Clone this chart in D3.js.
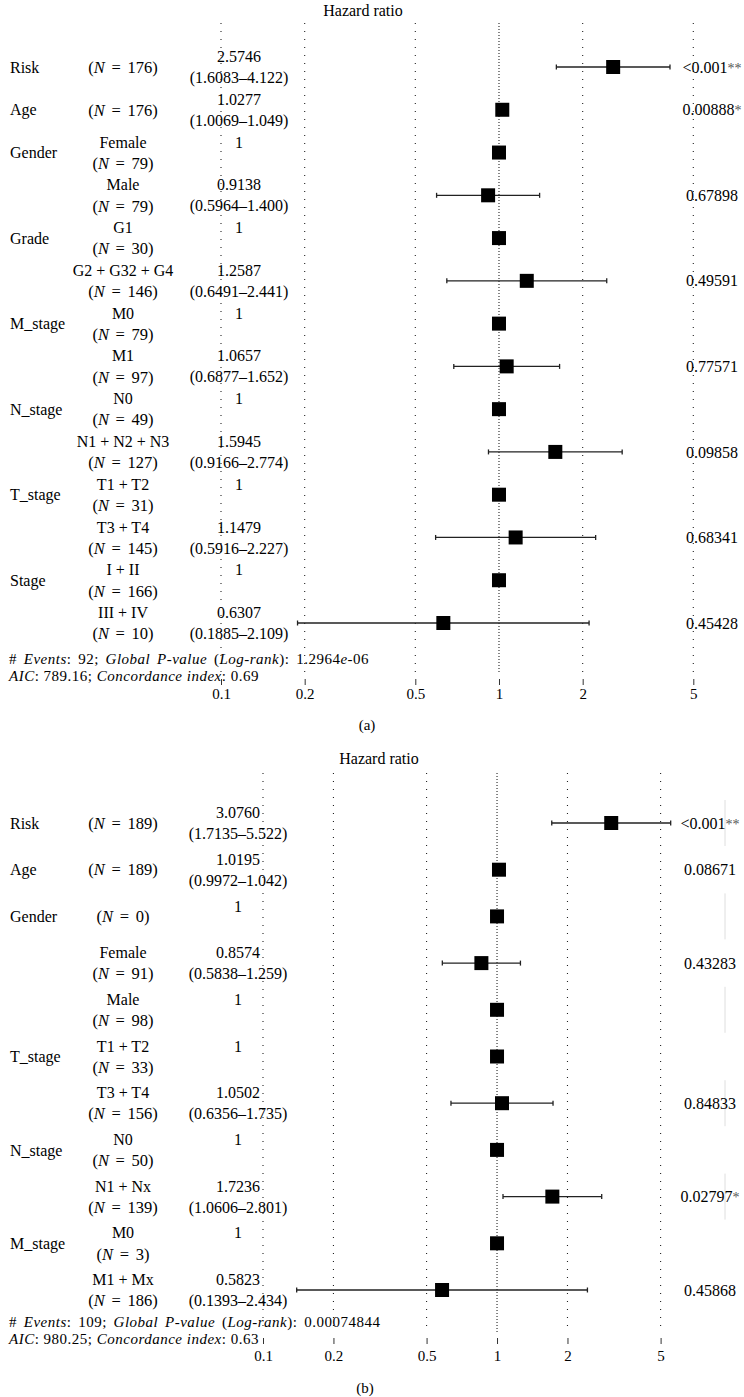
<!DOCTYPE html>
<html>
<head>
<meta charset="utf-8">
<script src="https://cdn.jsdelivr.net/npm/d3@7"></script>
<style>
body { margin: 0; background: #fff; }
svg { display: block; font-family: "Liberation Serif", "DejaVu Serif", serif; }
</style>
</head>
<body>
<svg width="744" height="1397"></svg>
<script>
// panel (a) data
const varA = ["Risk", "Age", "Gender", "", "Grade", "", "M_stage", "", "N_stage", "", "T_stage", "", "Stage", ""];
const levelA = ["", "", "Female", "Male", "G1", "G2 + G32 + G4", "M0", "M1", "N0", "N1 + N2 + N3", "T1 + T2", "T3 + T4", "I + II", "III + IV"];
const nA = [176, 176, 79, 79, 30, 146, 79, 97, 49, 127, 31, 145, 166, 10];
const hrA = [2.5746, 1.0277, 1, 0.9138, 1, 1.2587, 1, 1.0657, 1, 1.5945, 1, 1.1479, 1, 0.6307];
const loA = [1.6083, 1.0069, null, 0.5964, null, 0.6491, null, 0.6877, null, 0.9166, null, 0.5916, null, 0.1885];
const hiA = [4.122, 1.049, null, 1.400, null, 2.441, null, 1.652, null, 2.774, null, 2.227, null, 2.109];
const pA = ["<0.001**", "0.00888*", "", "0.67898", "", "0.49591", "", "0.77571", "", "0.09858", "", "0.68341", "", "0.45428"];
const footA = ["92", "1.2964e-06", "789.16", "0.69"];

// panel (b) data
const varB = ["Risk", "Age", "Gender", "", "", "T_stage", "", "N_stage", "", "M_stage", ""];
const levelB = ["", "", "", "Female", "Male", "T1 + T2", "T3 + T4", "N0", "N1 + Nx", "M0", "M1 + Mx"];
const nB = [189, 189, 0, 91, 98, 33, 156, 50, 139, 3, 186];
const hrB = [3.0760, 1.0195, 1, 0.8574, 1, 1, 1.0502, 1, 1.7236, 1, 0.5823];
const loB = [1.7135, 0.9972, null, 0.5838, null, null, 0.6356, null, 1.0606, null, 0.1393];
const hiB = [5.522, 1.042, null, 1.259, null, null, 1.735, null, 2.801, null, 2.434];
const pB = ["<0.001**", "0.08671", "", "0.43283", "", "", "0.84833", "", "0.02797*", "", "0.45868"];
const footB = ["109", "0.00074844", "980.25", "0.63"];

const ticks = [0.1, 0.2, 0.5, 1, 2, 5];

const svg = d3.select("svg");
const fmtHr = d3.format(".4f"), fmtHi = d3.format(".3f");

// append text made of [string, italic] pieces
function rich(sel, parts) {
  parts.forEach(([t, it]) => sel.append("tspan").attr("font-style", it ? "italic" : null).text(t));
  return sel;
}

function drawPanel(cfg) {
  const g = svg.append("g");
  const x = d3.scaleLog().domain([0.1, 5]).range(cfg.xRange);
  const y = d3.scaleLinear().domain([0, cfg.hr.length - 1]).range(cfg.yRange);
  const rows = d3.range(cfg.hr.length);

  // faint row edges (only visible in panel b)
  g.selectAll(".edge").data(cfg.edges).join("line")
    .attr("x1", cfg.edgeX).attr("x2", cfg.edgeX)
    .attr("y1", d => y(d) - 23).attr("y2", d => y(d) + 23)
    .attr("stroke", "#dedede").attr("stroke-width", 1);

  // title
  g.append("text").attr("x", cfg.titleX).attr("y", cfg.titleY).attr("dy", "0.35em")
    .attr("text-anchor", "middle").attr("font-size", 16).text("Hazard ratio");

  // dotted grid
  g.selectAll(".grid").data(ticks).join("line")
    .attr("x1", d => x(d)).attr("x2", d => x(d))
    .attr("y1", cfg.gridTop).attr("y2", cfg.gridBottom)
    .attr("stroke", "#222").attr("stroke-width", 1.1)
    .attr("stroke-dasharray", d => d === 1 ? "1,2" : "1,7");

  // x axis ticks and labels
  const axis = d3.axisBottom(x).tickValues(ticks).tickFormat(d3.format("")).tickSize(6).tickPadding(cfg.tickPad);
  const ag = g.append("g").attr("transform", `translate(0,${cfg.axisY})`).call(axis)
    .attr("font-family", null).attr("font-size", 15);
  ag.select(".domain").remove();
  ag.selectAll(".tick line").attr("stroke", "#333");

  // whiskers
  const ci = rows.filter(i => cfg.lo[i] != null);
  g.selectAll(".ci").data(ci).join("line")
    .attr("x1", i => x(cfg.lo[i])).attr("x2", i => x(cfg.hi[i]))
    .attr("y1", i => y(i)).attr("y2", i => y(i))
    .attr("stroke", "#222").attr("stroke-width", 1.3);
  ["lo", "hi"].forEach(k => {
    g.selectAll(".cap-" + k).data(ci).join("line")
      .attr("x1", i => x(cfg[k][i])).attr("x2", i => x(cfg[k][i]))
      .attr("y1", i => y(i) - 2.5).attr("y2", i => y(i) + 2.5)
      .attr("stroke", "#222").attr("stroke-width", 1.3);
  });

  // markers
  g.selectAll(".dot").data(rows).join("rect")
    .attr("x", i => x(cfg.hr[i]) - 7).attr("y", i => y(i) - 7)
    .attr("width", 14).attr("height", 14).attr("fill", "#000");

  // text columns
  rows.forEach(i => {
    const cy = y(i);
    if (cfg.vars[i]) {
      g.append("text").attr("x", 10).attr("y", cy).attr("dy", "0.35em")
        .attr("font-size", 16).text(cfg.vars[i]);
    }
    const nParts = [["(", false], ["N", true], [" = " + cfg.n[i] + ")", false]];
    const nY = cfg.levels[i] ? cy + 10.5 : cy;
    if (cfg.levels[i]) {
      g.append("text").attr("x", cfg.col2X).attr("y", cy - 10.5).attr("dy", "0.35em")
        .attr("text-anchor", "middle").attr("font-size", 16).text(cfg.levels[i]);
    }
    rich(g.append("text").attr("x", cfg.col2X).attr("y", nY).attr("dy", "0.35em")
      .attr("text-anchor", "middle").attr("font-size", 16.5).attr("word-spacing", 2.5), nParts);
    if (cfg.lo[i] == null) {
      g.append("text").attr("x", cfg.col3X).attr("y", cy - 10.5).attr("dy", "0.35em")
        .attr("text-anchor", "middle").attr("font-size", 16).text("1");
    } else {
      g.append("text").attr("x", cfg.col3X).attr("y", cy - 10.5).attr("dy", "0.35em")
        .attr("text-anchor", "middle").attr("font-size", 16).text(fmtHr(cfg.hr[i]));
      g.append("text").attr("x", cfg.col3X).attr("y", cy + 10.5).attr("dy", "0.35em")
        .attr("text-anchor", "middle").attr("font-size", 16)
        .text("(" + fmtHr(cfg.lo[i]) + "\u2013" + fmtHi(cfg.hi[i]) + ")");
    }
    if (cfg.p[i]) {
      const m = cfg.p[i].match(/^([^*]*)(\**)$/);
      const t = g.append("text").attr("x", cfg.pX).attr("y", cy).attr("dy", "0.35em")
        .attr("text-anchor", "middle").attr("font-size", 16).text(m[1]);
      if (m[2]) t.append("tspan").attr("font-size", 14).attr("fill", "#555").text(m[2]);
    }
  });

  // footer
  const f = cfg.foot;
  const mant = f[1].split("e");
  const line1 = [["# ", false], ["Events", true], [": " + f[0] + "; ", false], ["Global P-value", true],
    [" (", false], ["Log-rank", true], ["): " + mant[0], false]];
  if (mant.length > 1) line1.push(["e", true], [mant[1], false]);
  rich(g.append("text").attr("x", 9).attr("y", cfg.footY[0]).attr("dy", "0.35em").attr("font-size", 15)
    .attr("letter-spacing", 0.5).attr("word-spacing", 2.5), line1);
  rich(g.append("text").attr("x", 9).attr("y", cfg.footY[1]).attr("dy", "0.35em").attr("font-size", 15)
    .attr("letter-spacing", 0.5),
    [["AIC", true], [": " + f[2] + "; ", false], ["Concordance index", true], [": " + f[3], false]]);

  // caption
  g.append("text").attr("x", cfg.capX).attr("y", cfg.capY).attr("dy", "0.35em")
    .attr("text-anchor", "middle").attr("font-size", 15).text(cfg.caption);
}

drawPanel({
  vars: varA, levels: levelA, n: nA, hr: hrA, lo: loA, hi: hiA, p: pA, foot: footA,
  xRange: [221, 693.3], yRange: [67, 623], gridTop: 23, gridBottom: 672, axisY: 679, tickPad: 3,
  titleX: 363, titleY: 10, footY: [659, 676], capX: 367, capY: 725, caption: "(a)",
  col2X: 123, col3X: 239, pX: 712, edges: [], edgeX: 725
});

drawPanel({
  vars: varB, levels: levelB, n: nB, hr: hrB, lo: loB, hi: hiB, p: pB, foot: footB,
  xRange: [263, 660.6], yRange: [823, 1290], gridTop: 773, gridBottom: 1333, axisY: 1338, tickPad: 6,
  titleX: 379, titleY: 758, footY: [1322, 1339], capX: 365, capY: 1388, caption: "(b)",
  col2X: 123, col3X: 238, pX: 710, edges: [0, 2, 4, 6, 8], edgeX: 725
});
</script>
</body>
</html>
